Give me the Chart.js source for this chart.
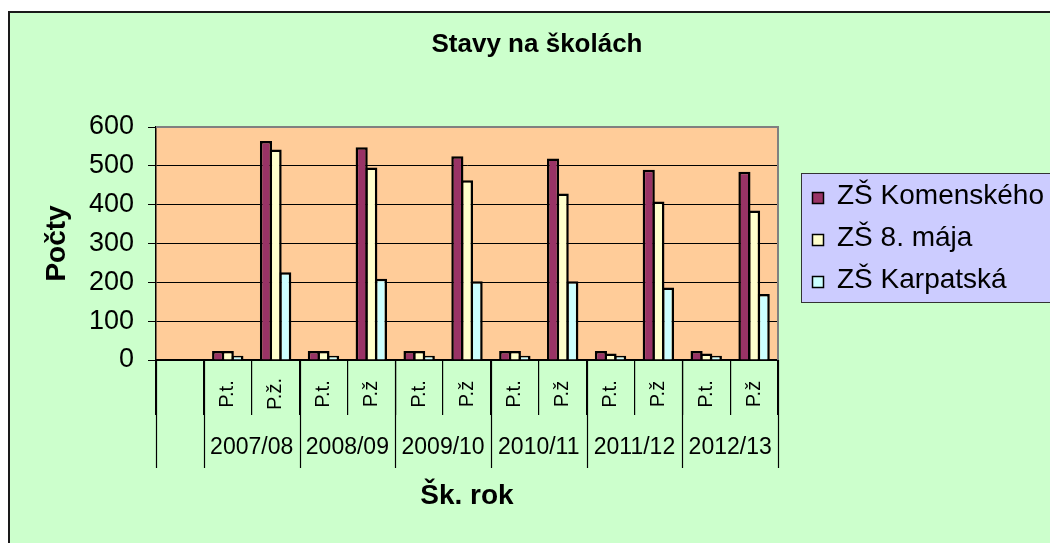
<!DOCTYPE html>
<html lang="sk">
<head>
	<meta charset="UTF-8">
	<title>Stavy na školách</title>
	<script src="https://cdn.jsdelivr.net/npm/chart.js"></script>
	<style>
		body { margin: 0; background: #fff; }
		#graf { display: block; }
	</style>
</head>
<body>
	<canvas id="graf" width="1050" height="543"></canvas>
	<script type="text/javascript">
		// udaje z grafu
		const nadpis = 'Stavy na školách';
		const typy = ['', 'P.t.', 'P.ž.', 'P.t.', 'P.ž', 'P.t.', 'P.ž', 'P.t.', 'P.ž', 'P.t.', 'P.ž', 'P.t.', 'P.ž'];
		const roky = ['2007/08', '2008/09', '2009/10', '2010/11', '2011/12', '2012/13'];
		const skoly = ['ZŠ Komenského', 'ZŠ 8. mája', 'ZŠ Karpatská'];
		const komenskeho = [null, 23, 564, 23, 548, 23, 525, 23, 519, 23, 490, 23, 485];
		const maja = [null, 23, 542, 23, 496, 23, 463, 23, 429, 17, 408, 17, 385];
		const karpatska = [null, 11, 226, 11, 209, 11, 203, 11, 203, 11, 187, 11, 170];
		const yTicks = [0, 100, 200, 300, 400, 500, 600];
		const farby = ['#993366', '#FFFFCC', '#CCFFFF'];

		const pismo = '"Liberation Sans", Arial, sans-serif';
		Chart.defaults.font.family = pismo;
		Chart.defaults.color = '#000';

		// pozadie, popisky osi x, nadpis a legenda
		const excelStyl = {
			id: 'excelStyl',
			beforeDraw(chart) {
				const ctx = chart.ctx, a = chart.chartArea;
				ctx.save();
				ctx.fillStyle = '#fff';
				ctx.fillRect(0, 0, chart.width, chart.height);
				ctx.fillStyle = '#CCFFCC';
				ctx.fillRect(8, 11, chart.width - 8, chart.height - 11);
				ctx.fillStyle = '#1a1a1a';
				ctx.fillRect(8, 11, chart.width - 8, 2);
				ctx.fillRect(8, 11, 2, chart.height - 11);
				ctx.fillStyle = '#FFCC99';
				ctx.fillRect(a.left, a.top, a.right - a.left, a.bottom - a.top);
				ctx.restore();
			},
			afterDraw(chart) {
				const ctx = chart.ctx, a = chart.chartArea, x = chart.scales.x;
				ctx.save();
				// sivy okraj plochy
				ctx.strokeStyle = '#808080';
				ctx.lineWidth = 2;
				ctx.beginPath();
				ctx.moveTo(a.left, a.top);
				ctx.lineTo(a.right, a.top);
				ctx.lineTo(a.right, a.bottom);
				ctx.stroke();

				// otocene popisky
				ctx.fillStyle = '#000';
				ctx.textAlign = 'center';
				ctx.textBaseline = 'middle';
				ctx.font = '20px ' + pismo;
				typy.forEach((t, i) => {
					if (!t) return;
					ctx.save();
					ctx.translate(x.getPixelForTick(i), 394);
					ctx.rotate(-Math.PI / 2);
					ctx.fillText(t, 0, 0);
					ctx.restore();
				});

				// skolske roky
				ctx.font = '23px ' + pismo;
				roky.forEach((r, j) => {
					const i = 1 + 2 * j;
					ctx.fillText(r, (x.getPixelForTick(i) + x.getPixelForTick(i + 1)) / 2, 448);
				});

				// dlhe ciary medzi rokmi
				const hranice = [0, 1];
				roky.forEach((r, j) => hranice.push(3 + 2 * j));
				ctx.strokeStyle = '#000';
				ctx.lineWidth = 1.2;
				hranice.forEach(k => {
					const px = Math.round(x.getPixelForValue(k - 0.5)) + 0.5;
					ctx.beginPath();
					ctx.moveTo(px, a.bottom);
					ctx.lineTo(px, 468);
					ctx.stroke();
				});

				// nadpis
				ctx.textBaseline = 'alphabetic';
				ctx.font = 'bold 26px ' + pismo;
				ctx.fillText(nadpis, 537, 52);

				// legenda
				ctx.fillStyle = '#CCCCFF';
				ctx.fillRect(801.5, 173.5, 300, 129);
				ctx.strokeStyle = '#333';
				ctx.lineWidth = 1;
				ctx.strokeRect(801.5, 173.5, 300, 129);
				ctx.textAlign = 'left';
				ctx.font = '28px ' + pismo;
				chart.data.datasets.forEach((ds, i) => {
					const base = 204 + 42 * i;
					ctx.fillStyle = ds.backgroundColor;
					ctx.fillRect(812.5, base - 11.5, 11, 11);
					ctx.strokeStyle = '#000';
					ctx.lineWidth = 1.5;
					ctx.strokeRect(812.5, base - 11.5, 11, 11);
					ctx.fillStyle = '#000';
					ctx.fillText(ds.label, 837, base);
				});
				ctx.restore();
			}
		};

		const datasety = [komenskeho, maja, karpatska].map((d, i) => ({
			label: skoly[i],
			data: d,
			backgroundColor: farby[i],
			borderColor: '#000',
			borderWidth: 2.5,
			categoryPercentage: 0.604,
			barPercentage: 1.26
		}));

		new Chart(document.getElementById('graf'), {
			type: 'bar',
			data: { labels: typy, datasets: datasety },
			plugins: [excelStyl],
			options: {
				responsive: false,
				animation: false,
				layout: { padding: { top: 127, right: 272, left: 0, bottom: 0 } },
				plugins: {
					legend: { display: false },
					tooltip: { enabled: false },
					title: { display: false }
				},
				scales: {
					x: {
						afterFit: s => { s.height = 183; },
						ticks: { display: false },
						grid: { drawOnChartArea: false, drawTicks: true, tickLength: 55, color: '#000', tickColor: '#000', lineWidth: 1.2 },
						border: { color: '#000', width: 2 },
						title: { display: true, text: 'Šk. rok', font: { size: 28, weight: 'bold' }, padding: { bottom: 30 } }
					},
					y: {
						min: 0,
						max: 600,
						afterBuildTicks: s => { s.ticks = yTicks.map(v => ({ value: v })); },
						afterFit: s => { s.width = 156; },
						ticks: { font: { size: 27 }, padding: 14 },
						grid: {
							color: c => (c.tick && c.tick.value === 600) ? 'rgba(0,0,0,0)' : '#000',
							lineWidth: 1,
							tickLength: 8,
							tickColor: '#000'
						},
						border: { color: '#000', width: 1.5 },
						title: { display: true, text: 'Počty', font: { size: 28, weight: 'bold' }, padding: { top: 40 } }
					}
				}
			}
		});
	</script>
</body>
</html>
